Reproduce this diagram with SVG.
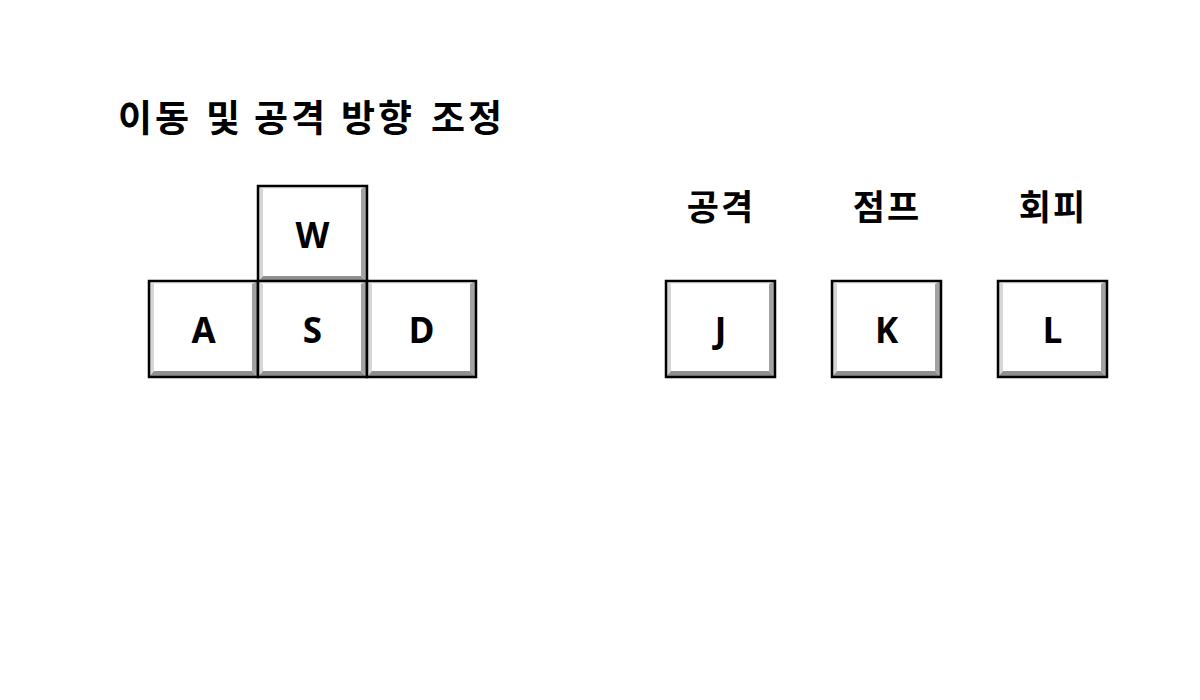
<svg xmlns="http://www.w3.org/2000/svg" xmlns:xlink="http://www.w3.org/1999/xlink" width="1200" height="700" viewBox="0 0 1200 700">
<style>
.title{font-family:"Noto Sans CJK KR","Noto Sans",sans-serif;font-weight:bold;font-size:37px;letter-spacing:3px;fill:#000}
.lbl{font-family:"Noto Sans CJK KR","Noto Sans",sans-serif;font-weight:bold;font-size:35px;letter-spacing:2px;fill:#000;text-anchor:middle}
.key{font-family:"Noto Sans","DejaVu Sans",sans-serif;font-weight:bold;font-size:35px;fill:#000;text-anchor:middle}
.bt{fill:#efefef}.bl{fill:#d6d6d6}.br{fill:#a3a3a3}.bb{fill:#8f8f8f}
.face{fill:#ffffff}
.edge{fill:none;stroke:#000;stroke-width:2.5}
</style>
<defs>
<g id="keybase">
<rect class="face" x="0" y="0" width="109" height="96"/>
<polygon class="bt" points="0,0 109,0 103,3 5,3"/>
<polygon class="bl" points="0,0 5,3 5,90 0,96"/>
<polygon class="br" points="109,0 109,96 103,90 103,3"/>
<polygon class="bb" points="0,96 109,96 103,90 5,90"/>
<rect class="edge" x="0" y="0" width="109" height="96"/>
</g>
</defs>
<rect width="1200" height="700" fill="#fff"/>
<g id="title"><text class="title" y="132"><tspan x="118">이동</tspan><tspan x="206">및</tspan><tspan x="254">공격</tspan><tspan x="341">방향</tspan><tspan x="431">조정</tspan></text></g>
<g id="label-attack"><text class="lbl" x="721" y="220">공격</text></g>
<g id="label-jump"><text class="lbl" x="887" y="220">점프</text></g>
<g id="label-dodge"><text class="lbl" x="1053" y="220">회피</text></g>
<g id="connectors"></g>
<g id="key-W"><use xlink:href="#keybase" x="258" y="186"/><text class="key" x="312.5" y="248">W</text></g>
<g id="key-A"><use xlink:href="#keybase" x="149" y="281"/><text class="key" x="203.5" y="343">A</text></g>
<g id="key-S"><use xlink:href="#keybase" x="258" y="281"/><text class="key" x="312.5" y="343">S</text></g>
<g id="key-D"><use xlink:href="#keybase" x="367" y="281"/><text class="key" x="421.5" y="343">D</text></g>
<g id="key-J"><use xlink:href="#keybase" x="666" y="281"/><text class="key" x="720.5" y="343">J</text></g>
<g id="key-K"><use xlink:href="#keybase" x="832" y="281"/><text class="key" x="886.5" y="343">K</text></g>
<g id="key-L"><use xlink:href="#keybase" x="998" y="281"/><text class="key" x="1052.5" y="343">L</text></g>
</svg>
